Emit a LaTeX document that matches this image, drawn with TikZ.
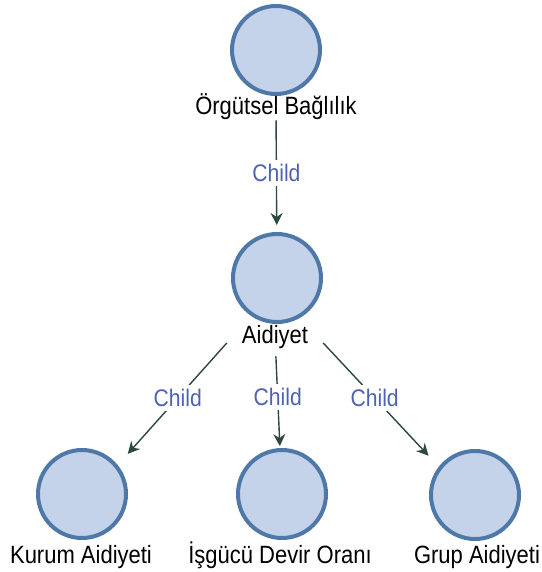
\documentclass[tikz,border=0pt]{standalone}
\usepackage{fontspec}
\setmainfont{Liberation Sans}[FakeStretch=0.88]
\usetikzlibrary{arrows.meta}
\definecolor{nodefill}{RGB}{197,211,234}
\definecolor{nodeline}{RGB}{78,120,168}
\definecolor{edgeline}{RGB}{45,72,64}
\definecolor{edgetext}{RGB}{78,98,178}
\begin{document}
\begin{tikzpicture}[x=1pt,y=-1pt,
  concept/.style={circle, draw=nodeline, fill=nodefill, line width=4pt,
    minimum size=88pt, inner sep=0pt},
  name label/.style={anchor=base, inner sep=0pt, font=\fontsize{25}{30}\selectfont},
  link/.style={draw=edgeline, line width=1.4pt,
    -{Stealth[length=12pt,width=12pt,inset=4pt]}},
  link label/.style={fill=white, text=edgetext, inner sep=4pt,
    font=\fontsize{24}{28}\selectfont}]

  % canvas
  \fill[white] (0,0) rectangle (541,572);
  \useasboundingbox (0,0) rectangle (541,572);

  % concepts
  \node[concept] (org) at (276,50) {};
  \node[name label] (lorg) at (276,115) {Örgütsel Bağlılık};

  \node[concept] (aid) at (277,278) {};
  \node[name label] (laid) at (275,343) {Aidiyet};

  \node[concept] (kurum) at (82,494) {};
  \node[name label] (lkurum) at (81,563) {Kurum Aidiyeti};

  \node[concept] (isg) at (282,494) {};
  \node[name label] (lisg) at (280,563) {İşgücü Devir Oranı};

  \node[concept] (grup) at (475,495) {};
  \node[name label] (lgrup) at (477,563) {Grup Aidiyeti};

  % child links
  \draw[link, shorten >=7pt] (lorg) -- node[link label, pos=0.47] {Child} (aid);
  \draw[link, shorten >=15pt] ([xshift=-15pt]laid.base west)
    -- node[link label, pos=0.45] {Child} (kurum.39);
  \draw[link, shorten <=8pt, shorten >=2pt] (laid) -- node[link label, pos=0.49] {Child} (isg);
  \draw[link, shorten >=15pt] ([xshift=15pt]laid.base east)
    -- node[link label, pos=0.445] {Child} (grup.142);
\end{tikzpicture}
\end{document}
